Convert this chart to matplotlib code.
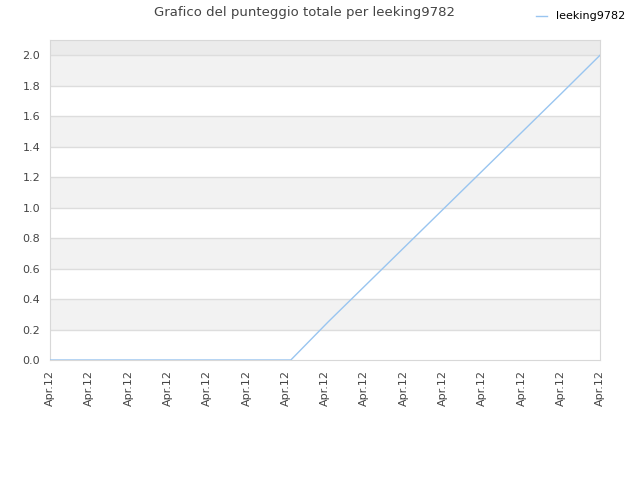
import matplotlib
matplotlib.use('Agg')
import matplotlib.pyplot as plt
from matplotlib.lines import Line2D

player = 'leeking9782'
x_labels = ['Apr.12'] * 15
# sample positions (in tick units) and cumulative score
times = [0, 1, 2, 3, 4, 5, 6, 6.13, 7.08, 8.07, 9.06, 10.05, 11.04, 12.03, 13.02, 14]
scores = [0, 0, 0, 0, 0, 0, 0, 0, 0.25, 0.5, 0.75, 1.0, 1.25, 1.5, 1.75, 2.0]
y_ticks = [0.0, 0.2, 0.4, 0.6, 0.8, 1.0, 1.2, 1.4, 1.6, 1.8, 2.0]

fig = plt.figure(figsize=(6.4, 4.8), dpi=100)
ax = fig.add_axes([50 / 640, 1 - 360 / 480, 550 / 640, 320 / 480])

ax.set_xlim(0, len(x_labels) - 1)
ax.set_ylim(0, 2.1)

# alternating bands, white starting at zero
for i in range(len(y_ticks)):
    lo = y_ticks[i]
    hi = y_ticks[i + 1] if i + 1 < len(y_ticks) else 2.1
    if i % 2 == 1:
        ax.axhspan(lo, hi, color='#f2f2f2', zorder=0, lw=0)
ax.axhspan(2.0, 2.1, color='#ebebeb', zorder=0, lw=0)

for y in y_ticks[1:]:
    ax.axhline(y, color='#dddddd', lw=1, zorder=1)

ax.plot(times, scores, color='#99c5f0', lw=1, zorder=3)

ax.set_xticks(range(len(x_labels)))
ax.set_xticklabels(x_labels, rotation=90, fontsize=8, color='#444444')
ax.set_yticks(y_ticks)
ax.set_yticklabels(['%.1f' % v for v in y_ticks], fontsize=8, color='#444444')
ax.tick_params(length=0, pad=7)

for s in ax.spines.values():
    s.set_color('#d8d8d8')

fig.text(0.475, 0.974, 'Grafico del punteggio totale per ' + player,
         ha='center', va='center', fontsize=9.5, color='#444444')

handle = Line2D([], [], color='#99c5f0', lw=1)
fig.legend([handle], [player], loc='upper right', bbox_to_anchor=(0.992, 0.997),
           frameon=False, fontsize=8, handlelength=1.0)

fig.savefig('out.png', dpi=100)
